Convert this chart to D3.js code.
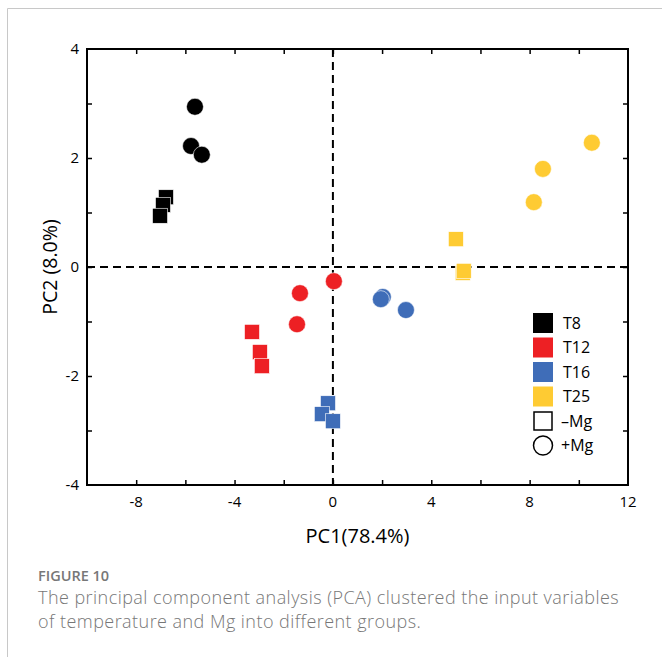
<!DOCTYPE html>
<html>
<head>
<meta charset="utf-8">
<script src="https://cdn.jsdelivr.net/npm/d3@7"></script>
<style>
  body { margin: 0; background: #fff; }
  svg { display: block; }
</style>
</head>
<body>
<div id="chart"></div>
<script>
const width = 662;
const height = 657;

// groups and their colours
const groups = ["T8", "T12", "T16", "T25"];
const colors = ["#000000", "#ED2024", "#3F6DB8", "#FECB33"];

// PC scores, -Mg = squares, +Mg = circles
const minusMgX = [[-6.79, -6.91, -7.03], [-3.29, -2.97, -2.89], [-0.2, -0.45, 0.0], [5.0, 5.28, 5.32]];
const minusMgY = [[1.28, 1.14, 0.94], [-1.19, -1.56, -1.82], [-2.5, -2.7, -2.83], [0.51, -0.11, -0.07]];
const plusMgX = [[-5.61, -5.77, -5.33], [-1.34, 0.04, -1.46], [2.03, 1.95, 2.97], [10.53, 8.54, 8.17]];
const plusMgY = [[2.94, 2.22, 2.06], [-0.48, -0.26, -1.05], [-0.55, -0.59, -0.79], [2.28, 1.80, 1.19]];

const xTicks = [-8, -4, 0, 4, 8, 12];
const yTicks = [-4, -2, 0, 2, 4];

const plot = {left: 87, right: 628, top: 49, bottom: 485};

const x = d3.scaleLinear().domain([-10, 12]).range([plot.left, plot.right]);
const y = d3.scaleLinear().domain([-4, 4]).range([plot.bottom, plot.top]);

const svg = d3.select("#chart").append("svg")
    .attr("width", width)
    .attr("height", height);

// frame around figure
svg.append("path")
    .attr("d", `M7.5,${height} V8.5 H${width}`)
    .attr("fill", "none")
    .attr("stroke", "#c8c8c8")
    .attr("stroke-width", 1);

const tickFont = "'Open Sans', sans-serif";

// axes with inward ticks on all four sides
const axBottom = svg.append("g").attr("transform", `translate(0,${plot.bottom})`)
    .call(d3.axisBottom(x).tickValues(d3.range(-8, 12, 2)).tickSize(-5).tickFormat(""));
const axTop = svg.append("g").attr("transform", `translate(0,${plot.top})`)
    .call(d3.axisTop(x).tickValues(d3.range(-8, 12, 2)).tickSize(-5).tickFormat(""));
const axLeft = svg.append("g").attr("transform", `translate(${plot.left},0)`)
    .call(d3.axisLeft(y).tickValues(d3.range(-3, 4, 1)).tickSize(-5).tickFormat(""));
const axRight = svg.append("g").attr("transform", `translate(${plot.right},0)`)
    .call(d3.axisRight(y).tickValues(d3.range(-3, 4, 1)).tickSize(-5).tickFormat(""));

[axBottom, axTop, axLeft, axRight].forEach(g => {
    g.select(".domain").remove();
    g.selectAll(".tick line").attr("stroke", "#000").attr("stroke-width", 1.5);
});

svg.append("rect")
    .attr("x", plot.left).attr("y", plot.top)
    .attr("width", plot.right - plot.left).attr("height", plot.bottom - plot.top)
    .attr("fill", "none").attr("stroke", "#000").attr("stroke-width", 2);

// tick labels
svg.append("g").selectAll("text")
    .data(xTicks).enter().append("text")
    .attr("x", d => x(d))
    .attr("y", plot.bottom + 22)
    .attr("text-anchor", "middle")
    .style("font-family", tickFont)
    .style("font-size", "15px")
    .text(d => d);

svg.append("g").selectAll("text")
    .data(yTicks).enter().append("text")
    .attr("x", plot.left - 8)
    .attr("y", d => y(d))
    .attr("dy", "0.35em")
    .attr("text-anchor", "end")
    .style("font-family", tickFont)
    .style("font-size", "15px")
    .text(d => d);

// zero lines
svg.append("line")
    .attr("x1", x(0)).attr("x2", x(0)).attr("y1", plot.top).attr("y2", plot.bottom)
    .attr("stroke", "#000").attr("stroke-width", 2).attr("stroke-dasharray", "8,5");
svg.append("line")
    .attr("x1", plot.left).attr("x2", plot.right).attr("y1", y(0)).attr("y2", y(0))
    .attr("stroke", "#000").attr("stroke-width", 2).attr("stroke-dasharray", "8,5");

// axis titles
svg.append("text")
    .attr("x", (plot.left + plot.right) / 2)
    .attr("y", 543)
    .attr("text-anchor", "middle")
    .style("font-family", tickFont)
    .style("font-size", "20px")
    .text("PC1(78.4%)");

svg.append("text")
    .attr("transform", `translate(57,${(plot.top + plot.bottom) / 2}) rotate(-90)`)
    .attr("text-anchor", "middle")
    .style("font-family", tickFont)
    .style("font-size", "19.5px")
    .text("PC2 (8.0%)");

// points
const sq = 15;
groups.forEach((g, i) => {
    const squares = minusMgX[i].map((v, j) => ({x: v, y: minusMgY[i][j]}));
    const circles = plusMgX[i].map((v, j) => ({x: v, y: plusMgY[i][j]}));

    svg.append("g").selectAll("rect")
        .data(squares).enter().append("rect")
        .attr("x", d => x(d.x) - sq / 2)
        .attr("y", d => y(d.y) - sq / 2)
        .attr("width", sq).attr("height", sq)
        .attr("fill", colors[i])
        .attr("stroke", "#fff").attr("stroke-width", 0.6);

    svg.append("g").selectAll("circle")
        .data(circles).enter().append("circle")
        .attr("cx", d => x(d.x))
        .attr("cy", d => y(d.y))
        .attr("r", 8.5)
        .attr("fill", colors[i])
        .attr("stroke", "#fff").attr("stroke-width", 0.6);
});

// legend
const legend = svg.append("g").attr("transform", "translate(533,313)");
const step = 24.5;
groups.forEach((g, i) => {
    legend.append("rect")
        .attr("x", 0).attr("y", i * step)
        .attr("width", 20).attr("height", 20)
        .attr("fill", colors[i]);
    legend.append("text")
        .attr("x", 30).attr("y", i * step + 10)
        .attr("dy", "0.35em")
        .style("font-family", tickFont)
        .style("font-size", "16px")
        .text(g);
});
legend.append("rect")
    .attr("x", 1).attr("y", 4 * step + 1)
    .attr("width", 18).attr("height", 18)
    .attr("fill", "none").attr("stroke", "#000").attr("stroke-width", 1.5);
legend.append("text")
    .attr("x", 28).attr("y", 4 * step + 10)
    .attr("dy", "0.35em")
    .style("font-family", tickFont)
    .style("font-size", "16px")
    .text("\u2013Mg");
legend.append("circle")
    .attr("cx", 10).attr("cy", 5 * step + 10)
    .attr("r", 9.5)
    .attr("fill", "none").attr("stroke", "#000").attr("stroke-width", 1.5);
legend.append("text")
    .attr("x", 28).attr("y", 5 * step + 10)
    .attr("dy", "0.35em")
    .style("font-family", tickFont)
    .style("font-size", "16px")
    .text("+Mg");

// caption
svg.append("text")
    .attr("x", 38).attr("y", 581)
    .style("font-family", tickFont)
    .style("font-size", "14.5px")
    .style("font-weight", "600")
    .attr("fill", "#777")
    .text("FIGURE 10");

const captionLines = [
    "The principal component analysis (PCA) clustered the input variables",
    "of temperature and Mg into different groups."
];
svg.append("g").selectAll("text")
    .data(captionLines).enter().append("text")
    .attr("x", 38)
    .attr("y", (d, i) => 604 + i * 24)
    .style("font-family", tickFont)
    .style("font-size", "18px")
    .style("letter-spacing", "0.45px")
    .style("font-weight", "300")
    .attr("fill", "#777")
    .text(d => d);
</script>
</body>
</html>
